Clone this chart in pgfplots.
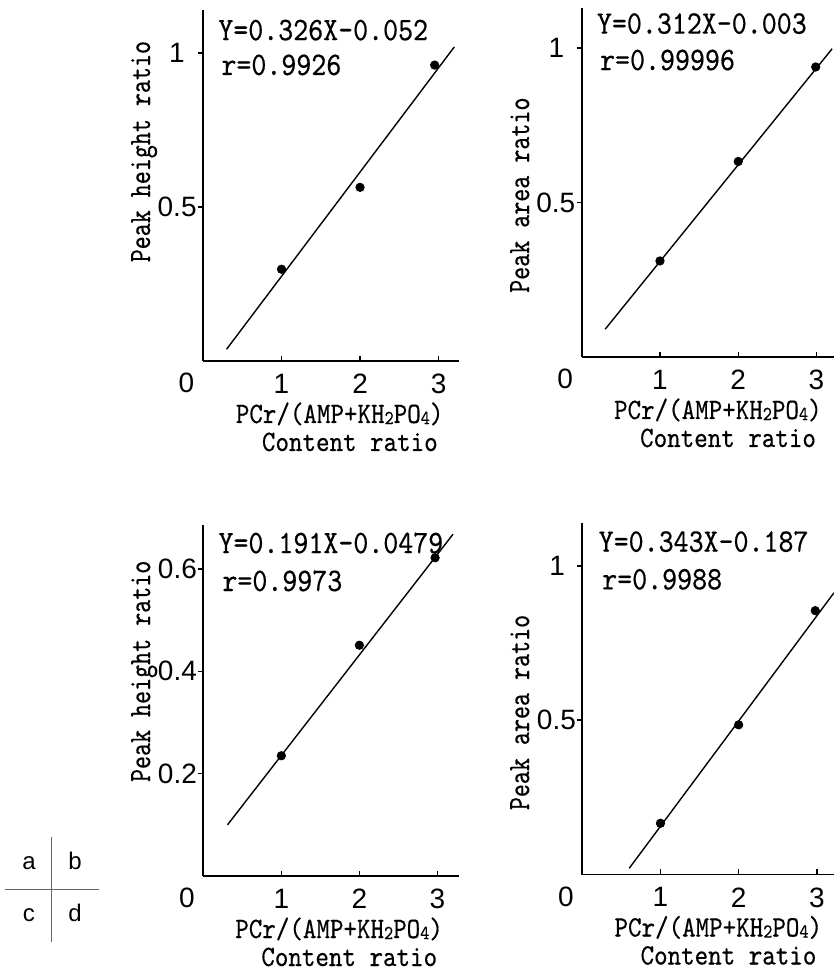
\documentclass[border=0pt]{standalone}
\usepackage{pgfplots}
\pgfplotsset{compat=1.18}
\usepackage{fontspec}
\setmainfont{Liberation Sans}
\newfontfamily\lmt{lmmono10-regular.otf}[FakeStretch=0.87, FakeBold=0.4]
\newfontfamily\lmtc{lmmono10-regular.otf}[FakeStretch=0.8, FakeBold=0.4]
\newcommand{\sub}[1]{\lower0.6pt\hbox{\fontsize{10}{10}\lmt #1}}
\pgfplotsset{
  panel/.style={
    scale only axis, anchor=south west,
    axis lines=left, axis line style={-, line width=0.9pt},
    xmin=0, ymin=0, xtick={1,2,3},
    xtick align=inside, ytick align=outside,
    major tick length=2.5pt, tick style={line width=0.7pt, black},
    tick label style={font=\fontsize{14}{14}\selectfont},
    yticklabel style={inner xsep=0pt, xshift=-0.5pt},
    xticklabel style={yshift=-3pt},
    /pgf/number format/assume math mode=true,
    clip=false,
  },
  pts/.style={only marks, mark=*, mark size=2.1pt, black},
  fit/.style={black, line width=0.7pt, no marks},
}
\tikzset{
  eq/.style={font=\fontsize{16.4}{16}\lmt, anchor=base west, inner sep=0pt},
  xl/.style={font=\fontsize{14.8}{15}\lmt, anchor=base, inner sep=0pt},
  yl/.style={font=\fontsize{15.5}{16}\lmtc, anchor=base, rotate=90, inner sep=0pt},
  zero/.style={font=\fontsize{14}{14}\selectfont, anchor=center, inner sep=0pt},
}
\newcommand{\xlabs}{%
  \node[xl] at ([yshift=-31pt]axis cs:1.74,0) {PCr/(AMP+KH\sub{2}PO\sub{4})};
  \node[xl] at ([yshift=-45pt]axis cs:1.87,0) {Content ratio};
  \node[zero] at ([xshift=-8.25pt,yshift=-11pt]axis cs:0,0) {0};
}
\begin{document}
\begin{tikzpicture}
\path[use as bounding box] (0,0) rectangle (417pt,487pt);
% panel a
\begin{axis}[panel, at={(101.5pt,306.5pt)}, width=128pt, height=175.5pt,
  xmax=3.26, ymax=1.14, ytick={0.5,1}, yticklabels={0.5,{1\kern6pt}}]
  \addplot[fit] coordinates {(0.30,0.038) (3.20,1.02)};
  \addplot[pts] coordinates {(1,0.298) (2,0.564) (2.95,0.961)};
  \node[eq] at (axis cs:0.19,1.042) {Y=0.326X-0.052};
  \node[eq] at (axis cs:0.23,0.929) {r=0.9926};
  \node[yl] at ([xshift=-26.5pt]axis cs:0,0.68) {Peak height ratio};
  \xlabs
\end{axis}
% panel b
\begin{axis}[panel, at={(290.85pt,308.5pt)}, width=126pt, height=174.5pt,
  xmax=3.22, ymax=1.13, ytick={0.5,1}, yticklabels={0.5,{1\kern5.5pt}}]
  \addplot[fit] coordinates {(0.30,0.09) (3.20,0.998)};
  \addplot[pts] coordinates {(1,0.311) (2,0.633) (2.99,0.939)};
  \node[eq] at (axis cs:0.19,1.047) {Y=0.312X-0.003};
  \node[eq] at (axis cs:0.23,0.929) {r=0.99996};
  \node[yl] at ([xshift=-26.3pt]axis cs:0,0.524) {Peak area ratio};
  \xlabs
\end{axis}
% panel c
\begin{axis}[panel, at={(101.65pt,49pt)}, width=128pt, height=175.5pt,
  xmax=3.28, ymax=0.686, ytick={0.2,0.4,0.6}, yticklabels={0.2,0.4,0.6}]
  \addplot[fit] coordinates {(0.31,0.10) (3.20,0.668)};
  \addplot[pts] coordinates {(1,0.235) (2,0.451) (2.97,0.622)};
  \node[eq] at (axis cs:0.19,0.631) {Y=0.191X-0.0479};
  \node[eq] at (axis cs:0.24,0.557) {r=0.9973};
  \node[yl] at ([xshift=-26.6pt]axis cs:0,0.40) {Peak height ratio};
  \xlabs
\end{axis}
% panel d
\begin{axis}[panel, at={(291.15pt,49.75pt)}, width=125.85pt, height=175.9pt,
  xmax=3.22, ymax=1.14, ytick={0.5,1}, yticklabels={0.5,{1\kern5.5pt}}]
  \addplot[fit] coordinates {(0.60,0.02) (3.22,0.913)};
  \addplot[pts] coordinates {(1,0.166) (2,0.485) (2.98,0.855)};
  \node[eq] at (axis cs:0.205,1.046) {Y=0.343X-0.187};
  \node[eq] at (axis cs:0.25,0.924) {r=0.9988};
  \node[yl] at ([xshift=-26.6pt]axis cs:0,0.525) {Peak area ratio};
  \xlabs
\end{axis}
% layout key
\draw[gray!80!black, line width=0.5pt] (25.85pt,68.65pt) -- (25.85pt,16.15pt);
\draw[gray!80!black, line width=0.5pt] (2.5pt,42.35pt) -- (49.65pt,42.35pt);
\node[anchor=base, font=\fontsize{12}{12}\selectfont, inner sep=0pt] at (14.5pt,52pt) {a};
\node[anchor=base, font=\fontsize{12}{12}\selectfont, inner sep=0pt] at (37.5pt,52pt) {b};
\node[anchor=base, font=\fontsize{12}{12}\selectfont, inner sep=0pt] at (14.5pt,26.15pt) {c};
\node[anchor=base, font=\fontsize{12}{12}\selectfont, inner sep=0pt] at (37.5pt,26.15pt) {d};
\end{tikzpicture}
\end{document}
